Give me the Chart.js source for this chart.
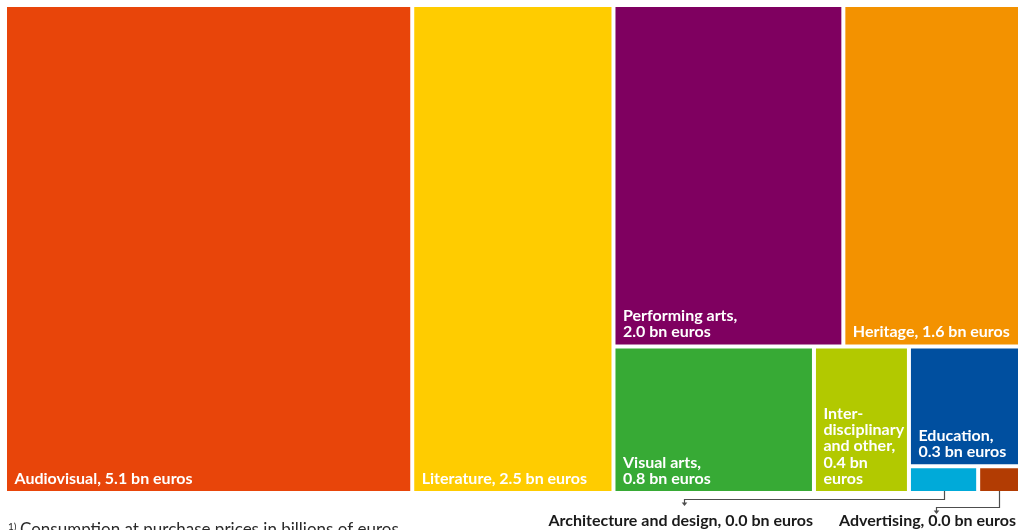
<!DOCTYPE html>
<html>
<head>
<meta charset="utf-8">
<script src="https://cdn.jsdelivr.net/npm/chart.js@4/dist/chart.umd.min.js"></script>
<style>
  html, body { margin: 0; padding: 0; background: #ffffff; }
  #wrap { position: relative; width: 1024px; height: 530px; }
</style>
</head>
<body>
<div id="wrap"><canvas id="chart"></canvas></div>
<script>
// Cultural consumption by domain, billions of euros
const categories = [
  'Audiovisual', 'Literature', 'Performing arts', 'Heritage', 'Visual arts',
  'Inter\u00ADdisciplinary and other', 'Education', 'Architecture and design', 'Advertising'
];
const values = [5.14, 2.54, 2.03, 1.56, 0.76, 0.36, 0.344, 0.048, 0.029];
const palette = [
  '#E8450A', '#FFCC00', '#7F0060', '#F39200', '#37AA35',
  '#B2C900', '#004F9F', '#00AAD9', '#B23C03'
];
const unitText = 'bn euros';
const footnoteText = 'Consumption at purchase prices in billions of euros';

// Binary cut tree over category indices; every pair is split across its longer side,
// in proportion to the summed values of its two halves.
const cutTree = [[0, 1], [[2, 3], [4, [5, [6, [7, 8]]]]]];

// ---- treemap controller: lays out bar elements as rectangles on linear x/y scales ----
class TreemapController extends Chart.DatasetController {
  update(mode) {
    const meta = this._cachedMeta;
    const xs = meta.xScale, ys = meta.yScale;
    const ds = this.getDataset();
    const data = ds.data;
    const rects = [];
    const total = n => (typeof n === 'number' ? data[n] : total(n[0]) + total(n[1]));
    const place = (n, x0, y0, x1, y1) => {
      if (typeof n === 'number') { rects[n] = [x0, y0, x1, y1]; return; }
      const f = total(n[0]) / total(n);
      const wPx = Math.abs(xs.getPixelForValue(x1) - xs.getPixelForValue(x0));
      const hPx = Math.abs(ys.getPixelForValue(y1) - ys.getPixelForValue(y0));
      if (wPx >= hPx) {
        const xm = x0 + (x1 - x0) * f;
        place(n[0], x0, y0, xm, y1); place(n[1], xm, y0, x1, y1);
      } else {
        const ym = y0 + (y1 - y0) * f;
        place(n[0], x0, y0, x1, ym); place(n[1], x0, ym, x1, y1);
      }
    };
    place(ds.tree, xs.min, ys.min, xs.max, ys.max);
    meta.data.forEach((el, i) => {
      const [x0, y0, x1, y1] = rects[i];
      const left = xs.getPixelForValue(x0), right = xs.getPixelForValue(x1);
      const top = ys.getPixelForValue(y0), bottom = ys.getPixelForValue(y1);
      Object.assign(el, {
        x: (left + right) / 2, width: right - left,
        y: top, base: bottom, height: bottom - top,
        horizontal: false, inflateAmount: 0, enableBorderRadius: true,
        borderSkipped: { top: false, right: false, bottom: false, left: false },
        options: this.resolveDataElementOptions(i, mode)
      });
    });
  }
}
TreemapController.id = 'treemap';
TreemapController.defaults = { datasetElementType: false, dataElementType: 'bar' };
TreemapController.overrides = { scales: { x: { type: 'linear' }, y: { type: 'linear' } } };
Chart.register(TreemapController);

const plain = s => s.replace(/\u00AD/g, '');

// greedy word wrap, breaking long words at soft hyphens
function wrapText(ctx, text, maxW) {
  const fits = s => ctx.measureText(plain(s)).width <= maxW;
  const lines = [];
  let cur = '';
  for (const w of text.split(' ')) {
    const cand = cur ? cur + ' ' + w : w;
    if (fits(cand)) { cur = cand; continue; }
    if (cur) lines.push(cur);
    let rest = w;
    while (!fits(rest) && rest.includes('\u00AD')) {
      const parts = rest.split('\u00AD');
      let k = parts.length - 1;
      while (k > 1 && !fits(parts.slice(0, k).join('') + '-')) k--;
      lines.push(parts.slice(0, k).join('') + '-');
      rest = parts.slice(k).join('\u00AD');
    }
    cur = rest;
  }
  if (cur) lines.push(cur);
  return lines.map(plain);
}

const cellLabels = {
  id: 'cellLabels',
  afterDatasetsDraw(chart, args, o) {
    const ctx = chart.ctx;
    const meta = chart.getDatasetMeta(0);
    const ds = chart.data.datasets[0];
    const bw = ds.borderWidth;
    ctx.save();
    ctx.font = o.font;
    ctx.textBaseline = 'alphabetic';
    let ci = 0;
    meta.data.forEach((el, i) => {
      const { x, y, base, width } = el.getProps(['x', 'y', 'base', 'width'], true);
      const L = x - width / 2 + bw, R = x + width / 2 - bw, T = y + bw, B = base - bw;
      const name = chart.data.labels[i];
      const val = ds.data[i].toFixed(1) + ' ' + o.unit;
      const single = plain(name) + ', ' + val;

      if (B - T < o.lineHeight * 2 + o.padY) {
        // too small for its label: leader line down to a caption below the plot
        const c = o.callouts[ci++];
        const cx = Math.round(x) + 0.5;
        const ax = c.arrowX + 0.5;
        ctx.strokeStyle = o.leaderColor;
        ctx.lineWidth = 1.2;
        ctx.beginPath();
        ctx.moveTo(cx, B);
        ctx.lineTo(cx, c.elbowY + 0.5);
        ctx.lineTo(ax, c.elbowY + 0.5);
        ctx.lineTo(ax, c.elbowY + 4);
        ctx.stroke();
        ctx.fillStyle = o.leaderColor;
        ctx.beginPath();
        ctx.moveTo(ax - 2.8, c.elbowY + 3.5);
        ctx.lineTo(ax + 2.8, c.elbowY + 3.5);
        ctx.lineTo(ax, c.elbowY + 7);
        ctx.closePath();
        ctx.fill();
        ctx.fillStyle = o.captionColor;
        ctx.textAlign = 'right';
        ctx.fillText(single, c.right, c.baseline);
        ctx.textAlign = 'left';
        return;
      }

      const maxW = R - L - o.padX - 1;
      // one line only for single-word names that fit; otherwise the value gets its own line
      const oneWord = !plain(name).includes(' ');
      let lines;
      if (oneWord && ctx.measureText(single).width <= maxW) {
        lines = [single];
      } else {
        lines = wrapText(ctx, name + ',', maxW).concat(wrapText(ctx, val, maxW));
      }
      ctx.fillStyle = o.color;
      lines.forEach((ln, k) => {
        ctx.fillText(ln, L + o.padX, B - o.padY - (lines.length - 1 - k) * o.lineHeight);
      });
    });
    ctx.restore();
  }
};

const footnote = {
  id: 'footnote',
  afterDraw(chart, args, o) {
    const ctx = chart.ctx;
    ctx.save();
    ctx.fillStyle = o.color;
    ctx.textBaseline = 'alphabetic';
    ctx.font = o.markFont;
    ctx.fillText('1)', o.x, o.markBaseline);
    ctx.font = o.font;
    ctx.fillText(o.text, o.textX, o.baseline);
    ctx.restore();
  }
};

new Chart(document.getElementById('chart'), {
  type: 'treemap',
  data: {
    labels: categories,
    datasets: [{
      data: values,
      tree: cutTree,
      backgroundColor: palette,
      borderColor: '#ffffff',
      borderWidth: 2
    }]
  },
  options: {
    responsive: true,
    maintainAspectRatio: false,
    animation: false,
    events: [],
    layout: { padding: { left: 5, top: 5, right: 4, bottom: 37 } },
    scales: {
      x: { type: 'linear', min: 0, max: 1, display: false },
      y: { type: 'linear', min: 0, max: 1, reverse: true, display: false }
    },
    plugins: {
      legend: { display: false },
      tooltip: { enabled: false },
      cellLabels: {
        font: 'bold 16px Lato',
        color: '#ffffff',
        unit: unitText,
        padX: 7.5,
        padY: 7,
        lineHeight: 16.3,
        leaderColor: '#4d4d4d',
        captionColor: '#1a1a1a',
        callouts: [
          { right: 813, baseline: 526, elbowY: 499, arrowX: 684 },
          { right: 1016, baseline: 526, elbowY: 507, arrowX: 936 }
        ]
      },
      footnote: {
        text: footnoteText,
        color: '#2a2a2a',
        font: '17px Lato',
        markFont: '10px Lato',
        x: 8, markBaseline: 530, textX: 20, baseline: 535
      }
    }
  },
  plugins: [cellLabels, footnote]
});
</script>
</body>
</html>
